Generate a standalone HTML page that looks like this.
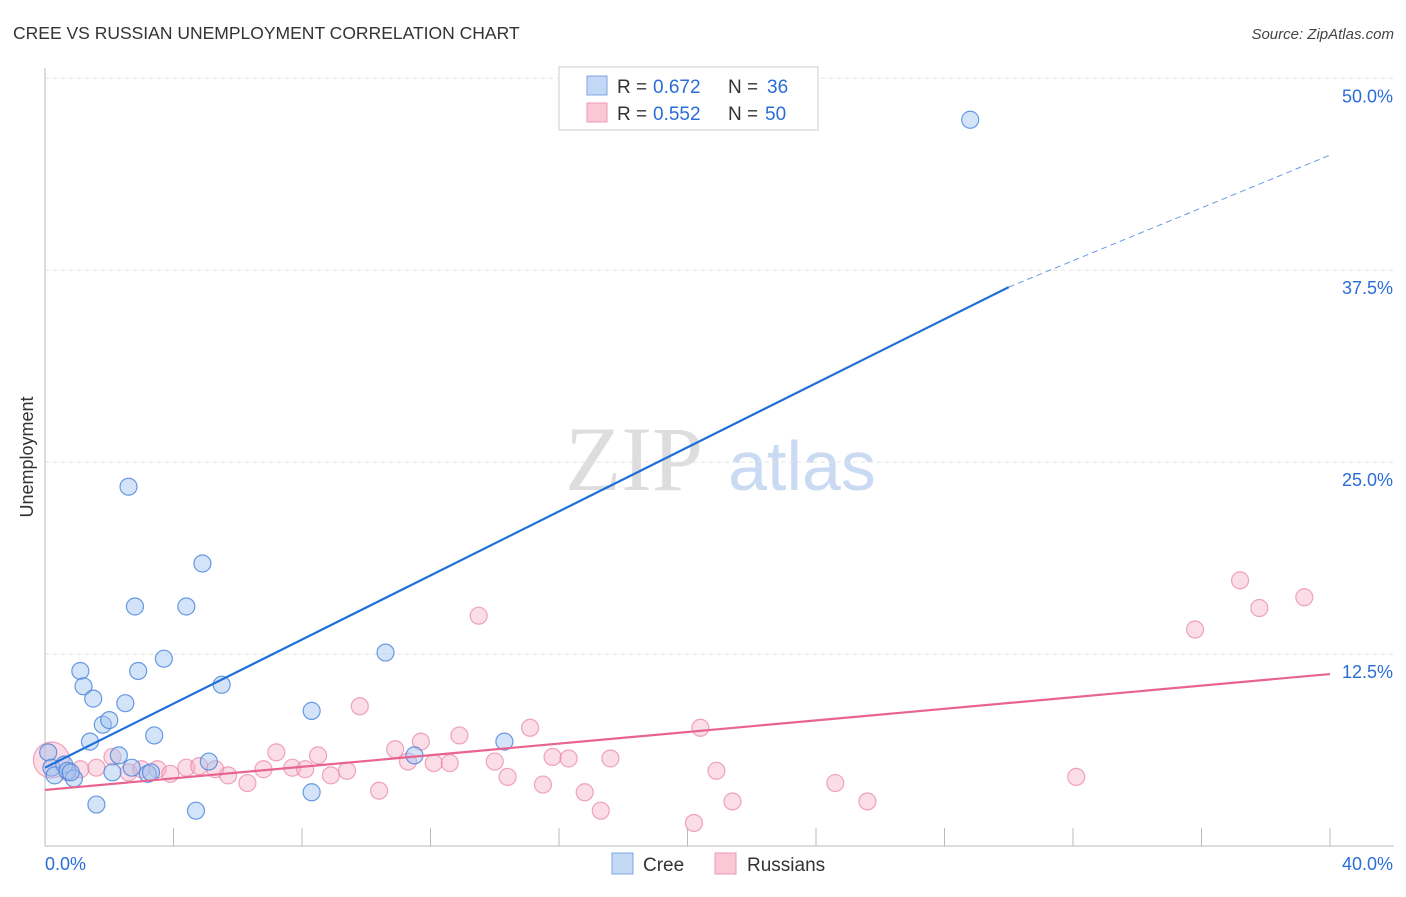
<!DOCTYPE html>
<html><head><meta charset="utf-8"><style>
body{margin:0;background:#fff;font-family:"Liberation Sans",sans-serif;}
svg text{font-family:"Liberation Sans",sans-serif;}
</style></head><body>
<svg width="1406" height="892" xmlns="http://www.w3.org/2000/svg" id="chart">
<text x="13" y="39" font-size="17.5" fill="#333">CREE VS RUSSIAN UNEMPLOYMENT CORRELATION CHART</text>
<text x="1394" y="39" font-size="15" fill="#444" text-anchor="end" font-style="italic">Source: ZipAtlas.com</text>
<text x="0" y="0" transform="translate(33,457) rotate(-90)" font-size="18" fill="#333" text-anchor="middle">Unemployment</text>
<g>
<text x="634" y="490" font-size="92" fill="#ddd" text-anchor="middle" style="font-family:'Liberation Serif',serif">ZIP</text>
<text x="802" y="490" font-size="70" fill="#c9daf2" text-anchor="middle">atlas</text>
</g>
<g id="grid"></g>
<g id="axes"></g>
<g id="pts"></g>
<g id="lines"></g>
<g>
<rect x="559" y="67" width="259" height="63" fill="#fff" stroke="#ccc"/>
<rect x="587" y="76" width="20" height="19" fill="#c3d8f5" stroke="#7ea6e6"/>
<text x="617" y="93" font-size="19" fill="#333">R =</text>
<text x="653" y="93" font-size="19" fill="#2a6dd9">0.672</text>
<text x="728" y="93" font-size="19" fill="#333">N =</text>
<text x="767" y="93" font-size="19" fill="#2a6dd9">36</text>
<rect x="587" y="103" width="20" height="19" fill="#f9c7d6" stroke="#ee9ab4"/>
<text x="617" y="120" font-size="19" fill="#333">R =</text>
<text x="653" y="120" font-size="19" fill="#2a6dd9">0.552</text>
<text x="728" y="120" font-size="19" fill="#333">N =</text>
<text x="765" y="120" font-size="19" fill="#2a6dd9">50</text>
</g>
<g>
<rect x="612" y="853" width="21" height="21" fill="#c3d8f5" stroke="#7ea6e6"/>
<text x="643" y="871" font-size="19" fill="#333">Cree</text>
<rect x="715" y="853" width="21" height="21" fill="#f9c7d6" stroke="#ee9ab4"/>
<text x="747" y="871" font-size="19" fill="#333">Russians</text>
</g>
</svg>
<script>
const creeX=[0.1,0.2,0.3,0.6,0.7,0.9,1.6,1.1,1.2,1.5,1.8,2.0,1.4,2.3,2.1,2.5,2.6,2.8,2.9,2.7,3.2,3.4,3.7,4.4,4.7,4.9,5.1,5.5,8.3,8.3,10.6,11.5,14.3,28.8,3.3,0.8];
const creeY=[6.1,5.1,4.6,5.3,4.9,4.4,2.7,11.4,10.4,9.6,7.9,8.2,6.8,5.9,4.8,9.3,23.4,15.6,11.4,5.1,4.7,7.2,12.2,15.6,2.3,18.4,5.5,10.5,8.8,3.5,12.6,5.9,6.8,47.3,4.8,4.8];
const rusX=[0.2,1.1,1.6,2.1,2.6,3.0,3.5,3.9,4.4,4.8,5.3,5.7,6.3,6.8,7.2,7.7,8.1,8.5,8.9,9.4,9.8,10.4,10.9,11.3,11.7,12.1,12.6,12.9,13.5,14.0,14.4,15.1,15.5,15.8,16.3,16.8,17.3,17.6,20.2,20.4,20.9,21.4,24.6,25.6,32.1,35.8,37.2,37.8,39.2,0.7];
const rusY=[5.6,5.0,5.1,5.8,4.8,5.0,5.0,4.7,5.1,5.2,5.0,4.6,4.1,5.0,6.1,5.1,5.0,5.9,4.6,4.9,9.1,3.6,6.3,5.5,6.8,5.4,5.4,7.2,15.0,5.5,4.5,7.7,4.0,5.8,5.7,3.5,2.3,5.7,1.5,7.7,4.9,2.9,4.1,2.9,4.5,14.1,17.3,15.5,16.2,4.8];
const yTicks=[12.5,25,37.5,50];
const yTickLabels=["12.5%","25.0%","37.5%","50.0%"];
const xTicks=[0,4,8,12,16,20,24,28,32,36,40];
const creeTrend=[[0,5.1],[30,36.4],[40,45.0]];
const rusTrend=[[0,3.65],[40,11.2]];
const NS="http://www.w3.org/2000/svg";
const sx=v=>45+v/40*1285, sy=v=>846-v/50*767.7;
function mk(tag,attrs,parent){const e=document.createElementNS(NS,tag);for(const k in attrs)e.setAttribute(k,attrs[k]);document.getElementById(parent).appendChild(e);return e;}
yTicks.forEach((t,i)=>{
 const l=mk('line',{x1:45,x2:1394,y1:sy(t),y2:sy(t),stroke:'#e4e4e4','stroke-dasharray':'4,4'},'grid');
 
 
 const tx=mk('text',{x:1393,y:sy(t)+24,'font-size':18,fill:'#2a6dd9','text-anchor':'end'},'grid');tx.textContent=yTickLabels[i];
 
 
});
const ax=mk('line',{x1:45,x2:45,y1:68,y2:846,stroke:'#bbb'},'axes');


const bx=mk('line',{x1:45,x2:1394,y1:846,y2:846,stroke:'#bbb'},'axes');


xTicks.forEach(t=>{const l=mk('line',{x1:sx(t),x2:sx(t),y1:828,y2:846,stroke:'#bbb'},'axes');
 
 });
const x0=mk('text',{x:45,y:870,'font-size':18,fill:'#2a6dd9'},'axes');x0.textContent='0.0%';


const x1=mk('text',{x:1393,y:870,'font-size':18,fill:'#2a6dd9','text-anchor':'end'},'axes');x1.textContent='40.0%';


rusX.forEach((v,i)=>{const c=mk('circle',{cx:sx(v),cy:sy(rusY[i]),r:i===0?18:8.5,fill:'rgba(246,170,194,0.4)',stroke:'rgba(232,130,162,0.7)','stroke-width':1.2},'pts');
 
 });
creeX.forEach((v,i)=>{const c=mk('circle',{cx:sx(v),cy:sy(creeY[i]),r:8.5,fill:'rgba(160,196,240,0.45)',stroke:'rgba(70,130,220,0.8)','stroke-width':1.2},'pts');
 
 });
const c1=mk('line',{x1:sx(creeTrend[0][0]),y1:sy(creeTrend[0][1]),x2:sx(creeTrend[1][0]),y2:sy(creeTrend[1][1]),stroke:'#1f6fd8','stroke-width':2.2},'lines');


const c2=mk('line',{x1:sx(creeTrend[1][0]),y1:sy(creeTrend[1][1]),x2:sx(creeTrend[2][0]),y2:sy(creeTrend[2][1]),stroke:'#6a9be0','stroke-width':1,'stroke-dasharray':'6,4'},'lines');


const r1=mk('line',{x1:sx(rusTrend[0][0]),y1:sy(rusTrend[0][1]),x2:sx(rusTrend[1][0]),y2:sy(rusTrend[1][1]),stroke:'#e8648f','stroke-width':2.2},'lines');


</script>
</body></html>
